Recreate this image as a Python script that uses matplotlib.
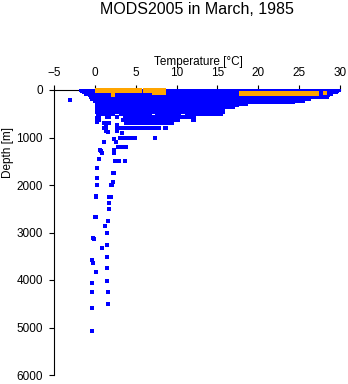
import matplotlib
matplotlib.use("Agg")
import matplotlib.pyplot as plt

plt.rcParams['font.family'] = ['Liberation Sans', 'DejaVu Sans']

BLUE = '#0000ff'
ORANGE = '#ffa500'

# dense upper-ocean cloud: depth [m] with min / max temperature [C]
env_depth = [0, 15, 57, 90, 126, 147, 183, 232, 274, 301, 330, 364, 394, 500]
env_tmin = [-2.0, -1.8, -1.6, -1.3, -0.9, -0.7, -0.6, -0.2, 0.0, 0.0, 0.0, 0.05, 0.05, 0.1]
env_tmax = [30.0, 29.9, 29.8, 29.2, 28.8, 28.6, 26.5, 25.7, 24.5, 18.7, 17.7, 17.1, 15.9, 15.9]

# runs of observations along standard levels
row_depth = [505, 505, 505, 505,
             560, 560, 560, 560,
             630, 630, 630,
             700, 700,
             805, 805, 805,
             1010, 1200, 1500, 1750, 2000]
row_t0 = [0.1, 3.0, 7.4, 11.0,
          0.1, 1.2, 2.5, 3.4,
          0.1, 3.2, 11.8,
          1.35, 3.6,
          0.9, 3.0, 8.3,
          2.8, 2.6, 2.2, 2.0, 1.75]
row_t1 = [2.5, 7.0, 10.6, 15.7,
          0.7, 2.0, 3.0, 12.4,
          0.7, 10.4, 12.4,
          2.0, 9.7,
          1.55, 8.1, 8.9,
          5.2, 4.1, 3.2, 2.6, 2.3]

# scattered single observations
pt_temp = [-3.0,
           0.3, 0.3, 0.3, 1.15, 1.35, 1.55, 1.4,
           2.7, 2.7, 2.65, 3.3, 2.4, 2.6, 1.15, 7.3,
           0.6, 0.85, 0.7, 2.3, 2.4, 0.45, 3.7,
           0.3, 2.2, 0.3, 0.3, 0.1, 0.2, 1.7, 2.0,
           1.7, 1.75, 0.04, 0.15, 1.6, 1.27, 1.47, -0.17, -0.05,
           1.47, 0.86, 1.47, -0.3, -0.17, 1.47, 0.2, 1.47, -0.3, -0.3,
           1.55, 1.55, -0.3, -0.3]
pt_depth = [210,
            580, 620, 667, 688, 772, 891, 857,
            737, 821, 857, 905, 1031, 1088, 1088, 1017,
            1263, 1333, 1290, 1263, 1320, 1459, 1500,
            1649, 1930, 1860, 2000, 2246, 2240, 2260, 2260,
            2386, 2512, 2680, 2670, 2758, 2856, 3018, 3123, 3140,
            3263, 3333, 3509, 3579, 3635, 3754, 3825, 4014, 4070, 4246,
            4260, 4505, 4590, 5081]

# surface samples highlighted in orange
or_depth = [0, 0, 40, 63]
or_t0 = [0.0, 5.85, 7.0, 17.7]
or_t1 = [5.65, 8.6, 8.6, 27.3]
or_pt_temp = [2.16, 28.2]
or_pt_depth = [112, 63]

fig = plt.figure(figsize=(3.48, 3.84), dpi=100)
ax = fig.add_axes([54 / 348, 1 - 375 / 384, 286 / 348, 285 / 384])

# data sits above the axis lines
kw = dict(antialiased=False, clip_on=False, zorder=3)
ax.fill_betweenx(env_depth, env_tmin, env_tmax, step='post', color=BLUE, lw=0, **kw)
ax.hlines([0], [-2.0], [30.0], colors=BLUE, lw=2.0, **kw)
ax.hlines(row_depth, row_t0, row_t1, colors=BLUE, lw=1.5, **kw)
ax.plot(pt_temp, pt_depth, 's', color=BLUE, ms=2.2, mew=0, **kw)

kw['zorder'] = 4
ax.hlines(or_depth, or_t0, or_t1, colors=ORANGE, lw=2.3, **kw)
ax.plot(or_pt_temp, or_pt_depth, 's', color=ORANGE, ms=2.4, mew=0, **kw)

ax.set_xlim(-5, 30)
ax.set_ylim(6000, 0)
ax.set_xticks([-5, 0, 5, 10, 15, 20, 25, 30])
ax.set_yticks([0, 1000, 2000, 3000, 4000, 5000, 6000])

ax.xaxis.tick_top()
ax.spines['right'].set_visible(False)
ax.spines['bottom'].set_visible(False)
for s in ('left', 'top'):
    ax.spines[s].set_linewidth(0.8)
ax.tick_params(axis='x', direction='out', length=3.6, width=0.8, pad=4, labelsize=8.5)
ax.tick_params(axis='y', direction='out', length=3.6, width=0.8, pad=4.5, labelsize=8.5)

fig.text(197 / 348, 1 - 13.5 / 384, 'MODS2005 in March, 1985', ha='center',
         va='baseline', fontsize=11.5)
fig.text(198 / 348, 1 - 64.5 / 384, 'Temperature [\u00b0C]', ha='center',
         va='baseline', fontsize=8.5)
fig.text(7.5 / 348, 232 / 384, 'Depth [m]', rotation=90, ha='center',
         va='center', fontsize=8.5)

fig.savefig('out.png', dpi=100)
